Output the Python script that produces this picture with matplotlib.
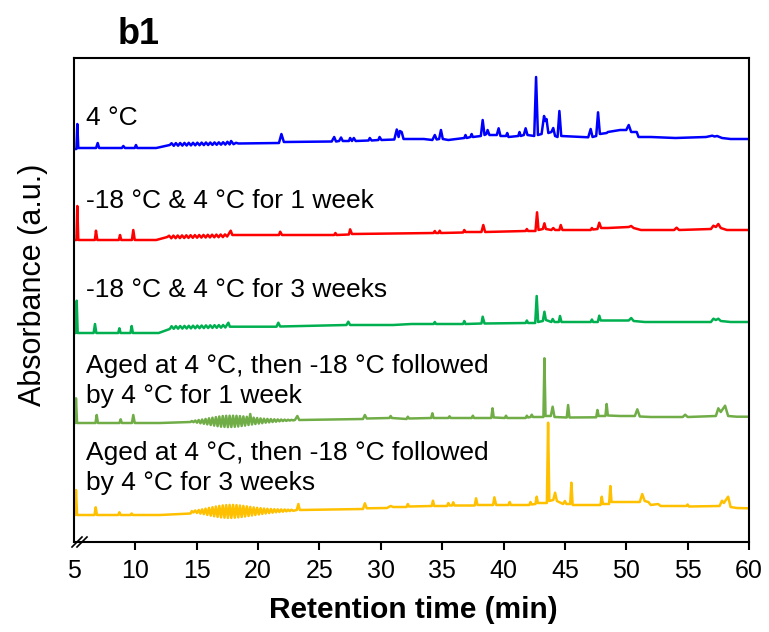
import numpy as np
import matplotlib
matplotlib.use('Agg')
import matplotlib.pyplot as plt

plt.rcParams['font.family'] = ['Liberation Sans', 'DejaVu Sans']

# chromatogram traces as (retention time, signal) points,
# signal measured from each trace's own starting baseline
blue = [(5.0, 0), (5.2, 0), (5.27, 25), (5.35, 1), (6.8, 1), (6.93, 6), (7.05, 1),
        (8.9, 1), (9.02, 3), (9.15, 1), (9.95, 1), (10.05, 4), (10.15, 1), (11.7, 1), (12.8, 4),
        (12.95, 5.8), (13.13, 3.2), (13.3, 5.9), (13.48, 3.3), (13.65, 6.0), (13.83, 3.4),
        (14.0, 6.1), (14.18, 3.5), (14.35, 6.2), (14.53, 3.6), (14.7, 6.2), (14.88, 3.7),
        (15.05, 6.3), (15.23, 3.8), (15.4, 6.4), (15.58, 3.9), (15.75, 6.5), (15.93, 4.0),
        (16.1, 6.5), (16.28, 4.1), (16.45, 6.6), (16.63, 4.2), (16.8, 6.7), (16.98, 4.3),
        (17.15, 6.8), (17.33, 4.4), (17.5, 7.2), (17.68, 4.6), (17.8, 8.0), (18.0, 4.8), (18.2, 6.2),
        (18.4, 5.5), (21.7, 6), (21.9, 15), (22.1, 7), (26.0, 7.5), (26.2, 12), (26.35, 7.5),
        (26.6, 8), (26.76, 11.5), (26.9, 8), (27.4, 8), (27.5, 11), (27.65, 8), (27.8, 11),
        (27.95, 8), (29.0, 8.5), (29.1, 11), (29.25, 8.5), (29.8, 9), (29.9, 12), (30.05, 9),
        (31.1, 9.5), (31.3, 19.5), (31.45, 12), (31.55, 18), (31.7, 17), (31.85, 10), (33.5, 10),
        (34.2, 9), (34.4, 14), (34.55, 9.5), (34.75, 10), (34.9, 19), (35.05, 10), (35.5, 9),
        (36.8, 11), (36.9, 14), (37.0, 11), (37.3, 12), (37.4, 15), (37.5, 12), (38.15, 13),
        (38.3, 29), (38.45, 14), (38.6, 15), (38.7, 19), (38.85, 14), (39.45, 14), (39.6, 20.7),
        (39.75, 13), (40.2, 13), (40.3, 16), (40.4, 12), (41.2, 13), (41.3, 17), (41.4, 13),
        (41.65, 14), (41.8, 20.7), (41.95, 14), (42.5, 13), (42.65, 72), (42.8, 14), (43.1, 15),
        (43.3, 33), (43.4, 28), (43.5, 30), (43.65, 16), (43.9, 17), (44.05, 21), (44.2, 13),
        (44.4, 12), (44.55, 38), (44.7, 13), (46.9, 11.7), (47.1, 20), (47.25, 12), (47.55, 13),
        (47.7, 36.7), (47.85, 15), (48.4, 16), (48.5, 17), (49.5, 19), (50.0, 19), (50.2, 24),
        (50.4, 17), (50.85, 17), (51.0, 12), (52.0, 12), (54.0, 11), (56.5, 12), (57.0, 13.3),
        (57.2, 12.5), (57.4, 13), (57.8, 11), (58.5, 10), (60.0, 10)]

red = [(5.0, 0), (5.2, 0), (5.27, 34), (5.35, 0), (6.7, 0), (6.79, 9.3), (6.9, 0),
       (8.65, 0), (8.75, 5), (8.85, 0), (9.72, 0), (9.83, 10), (9.95, 0), (11.7, 0), (12.6, 3),
       (12.75, 4.3), (12.93, 1.7), (13.1, 4.4), (13.28, 1.8), (13.45, 4.5), (13.63, 1.9),
       (13.8, 4.6), (13.98, 2.0), (14.15, 4.7), (14.33, 2.1), (14.5, 4.8), (14.68, 2.2),
       (14.85, 4.9), (15.03, 2.3), (15.2, 5.0), (15.38, 2.4), (15.55, 5.1), (15.73, 2.5),
       (15.9, 5.2), (16.08, 2.6), (16.25, 5.3), (16.43, 2.7), (16.6, 5.4), (16.78, 2.8),
       (16.95, 5.5), (17.13, 2.9), (17.3, 5.6), (17.48, 3.5), (17.77, 9.3), (17.9, 5),
       (21.7, 5), (21.8, 8.3), (21.95, 5), (26.2, 5), (26.3, 7), (26.4, 5), (27.4, 5.5),
       (27.5, 10.7), (27.65, 6), (32.4, 6.7), (34.3, 7), (34.4, 9), (34.5, 7), (34.7, 7),
       (34.8, 9.3), (34.9, 7), (36.7, 7.5), (36.8, 10), (36.9, 8), (38.2, 8), (38.35, 15),
       (38.5, 8), (41.8, 9), (41.9, 11), (42.0, 9), (42.6, 9), (42.73, 27.7), (42.85, 10),
       (43.2, 11), (43.33, 16.7), (43.45, 11), (43.9, 10), (44.05, 12), (44.2, 10), (44.55, 10),
       (44.66, 15), (44.8, 10), (47.1, 10), (47.2, 12), (47.3, 10.5), (47.65, 11), (47.8, 17.3),
       (47.95, 12), (48.5, 12), (50.2, 13), (50.4, 14), (50.6, 12), (51.2, 10), (53.9, 10),
       (54.1, 12.3), (54.3, 10), (56.9, 11), (57.1, 14.3), (57.3, 13), (57.5, 16), (57.7, 12),
       (58.2, 10), (60.0, 10)]

green = [(5.0, 0), (5.15, 0), (5.22, 32.3), (5.3, 0), (6.6, 0), (6.71, 9), (6.82, 0),
         (8.6, 0), (8.7, 4.7), (8.8, 0), (9.6, 0), (9.7, 7), (9.8, 0), (11.9, 0), (12.8, 4),
         (12.95, 6.8), (13.13, 4.2), (13.3, 6.9), (13.48, 4.3), (13.65, 7.0), (13.83, 4.4),
         (14.0, 7.1), (14.18, 4.5), (14.35, 7.2), (14.53, 4.6), (14.7, 7.3), (14.88, 4.7),
         (15.05, 7.4), (15.23, 4.8), (15.4, 7.5), (15.58, 4.9), (15.75, 7.6), (15.93, 5.0),
         (16.1, 7.7), (16.28, 5.1), (16.45, 7.8), (16.63, 5.2), (16.8, 7.9), (16.98, 5.3),
         (17.15, 8.0), (17.33, 5.5), (17.58, 10.3), (17.7, 6.3), (21.5, 6.3), (21.65, 10.3),
         (21.8, 6.5), (27.2, 8), (27.35, 11.3), (27.5, 8), (31.0, 8), (32.5, 9), (34.3, 9),
         (34.4, 11), (34.5, 9), (36.7, 9), (36.8, 12), (36.9, 9), (38.2, 9.5), (38.3, 16.3),
         (38.45, 9.5), (41.8, 10), (41.9, 12.5), (42.0, 10), (42.58, 10), (42.7, 37), (42.82, 11),
         (43.2, 12), (43.33, 21.3), (43.45, 13), (43.9, 11), (44.0, 14), (44.15, 11), (44.5, 11),
         (44.6, 17), (44.72, 11), (47.1, 11), (47.2, 13.5), (47.3, 11), (47.68, 11), (47.8, 17.3),
         (47.92, 12.5), (48.5, 12.5), (50.2, 12.5), (50.4, 15), (50.6, 12), (51.5, 11),
         (56.9, 11), (57.1, 14.3), (57.3, 13), (57.5, 14.3), (57.7, 12), (58.5, 11), (60.0, 11)]

light_green = [(5.0, 0), (5.1, 0), (5.16, 24.7), (5.25, 0), (6.75, 0), (6.85, 8), (6.95, 0),
               (8.7, 0), (8.8, 3.7), (8.9, 0), (9.72, 0), (9.83, 8), (9.95, 0), (12.0, 0), (14.5, 1),
               (14.6, 2.0), (14.74, 0.8), (14.88, 2.5), (15.02, 0.3), (15.16, 3.0), (15.3, -0.3),
               (15.44, 3.5), (15.58, -0.8), (15.72, 4.1), (15.86, -1.4), (16.0, 4.7), (16.14, -2.0),
               (16.28, 5.3), (16.42, -2.6), (16.56, 5.9), (16.7, -3.2), (16.84, 6.5), (16.98, -3.7),
               (17.12, 7.0), (17.26, -3.9), (17.4, 7.2), (17.54, -4.1), (17.68, 7.3), (17.82, -4.0),
               (17.96, 7.3), (18.1, -3.8), (18.24, 7.2), (18.38, -3.5), (18.52, 6.9), (18.66, -3.0),
               (18.8, 6.6), (18.94, -2.6), (19.08, 6.2), (19.22, -2.0), (19.36, 9.0), (19.5, -1.5),
               (19.64, 5.3), (19.78, -1.0), (19.92, 5.0), (20.06, -0.6), (20.2, 4.6), (20.34, -0.2),
               (20.48, 4.3), (20.62, 0.3), (20.76, 4.1), (20.9, 0.6), (21.04, 3.9), (21.18, 1.0),
               (21.32, 3.7), (21.46, 1.3), (21.6, 3.6), (21.74, 1.6), (21.88, 3.5), (22.02, 1.9),
               (22.16, 3.4), (22.3, 2.1), (22.44, 3.3), (22.58, 2.4), (22.72, 3.2), (22.86, 2.6),
               (23.0, 3), (23.2, 7), (23.35, 3), (28.55, 4), (28.7, 8), (28.85, 4.5), (30.7, 5),
               (30.8, 7), (30.9, 5), (32.1, 4), (32.2, 6.3), (32.3, 4.5), (34.1, 5), (34.2, 9.7),
               (34.3, 5), (35.5, 5), (35.6, 6.7), (35.7, 5), (37.4, 5), (37.5, 7.3), (37.6, 5),
               (39.0, 5), (39.1, 14.7), (39.2, 5.5), (40.1, 5), (40.2, 7.3), (40.3, 5), (41.8, 5),
               (41.9, 7.3), (42.0, 5.5), (42.2, 6), (42.3, 8.3), (42.4, 6), (43.25, 6), (43.33, 64.7),
               (43.42, 7), (43.85, 7), (44.0, 16.3), (44.15, 6), (45.15, 5.5), (45.26, 18),
               (45.37, 5.5), (47.55, 5.7), (47.65, 13), (47.75, 7), (48.3, 7), (48.4, 19), (48.5, 7.5),
               (49.5, 7), (50.7, 7), (50.9, 13.7), (51.1, 6.5), (52.0, 6), (54.6, 6), (54.8, 8.3),
               (55.0, 6), (57.3, 7), (57.5, 14.7), (57.7, 11), (58.05, 17.3), (58.3, 7), (59.0, 6.3),
               (60.0, 6.3)]

yellow = [(5.0, 0), (5.1, 0), (5.16, 25), (5.25, 0), (6.67, 0), (6.77, 7.7), (6.87, 0),
          (8.6, 0), (8.7, 2.7), (8.8, 0), (9.6, 0), (9.7, 1.5), (9.8, 0), (12.0, 0), (14.5, 1.5),
          (14.6, 3.9), (14.74, 2.5), (14.88, 4.5), (15.02, 2.0), (15.16, 5.0), (15.3, 1.4),
          (15.44, 5.7), (15.58, 0.8), (15.72, 6.4), (15.86, 0.1), (16.0, 7.1), (16.14, -0.6),
          (16.28, 7.8), (16.42, -1.3), (16.56, 8.5), (16.7, -1.9), (16.84, 9.1), (16.98, -2.4),
          (17.12, 9.6), (17.26, -2.7), (17.4, 9.9), (17.54, -2.9), (17.68, 10.1), (17.82, -2.9),
          (17.96, 10.1), (18.1, -2.7), (18.24, 9.9), (18.38, -2.4), (18.52, 9.5), (18.66, -2.0),
          (18.8, 9.1), (18.94, -1.5), (19.08, 8.6), (19.22, -1.0), (19.36, 8.1), (19.5, -0.5),
          (19.64, 7.6), (19.78, 0.0), (19.92, 7.2), (20.06, 0.5), (20.2, 6.8), (20.34, 1.0),
          (20.48, 6.5), (20.62, 1.5), (20.76, 6.2), (20.9, 1.9), (21.04, 6.0), (21.18, 2.3),
          (21.32, 5.8), (21.46, 2.7), (21.6, 5.7), (21.74, 3.0), (21.88, 5.6), (22.02, 3.3),
          (22.16, 5.5), (22.3, 3.6), (22.44, 5.4), (22.58, 3.9), (22.72, 5.3), (22.86, 4.2),
          (23.15, 5), (23.28, 11), (23.4, 5), (28.55, 6), (28.7, 11.7), (28.85, 6.7), (30.5, 7),
          (30.8, 9), (31.0, 8), (32.1, 8), (32.2, 11), (32.3, 8.5), (34.15, 9), (34.25, 14.3),
          (34.35, 9), (35.4, 9), (35.5, 12), (35.6, 9.5), (35.8, 9.5), (35.9, 12.7), (36.0, 9.5),
          (37.65, 9.5), (37.76, 16.7), (37.88, 10), (39.15, 10), (39.25, 17.7), (39.4, 10),
          (40.4, 10), (40.5, 13), (40.6, 10), (42.1, 10), (42.2, 13), (42.3, 10.5), (42.6, 11),
          (42.7, 18.3), (42.8, 12), (43.53, 12), (43.63, 92.3), (43.73, 14), (44.05, 15),
          (44.2, 22.3), (44.35, 14), (44.85, 11), (45.0, 14), (45.12, 11), (45.43, 11),
          (45.53, 32.3), (45.63, 10), (47.9, 10), (48.0, 18.3), (48.1, 11), (48.6, 11), (48.7, 29),
          (48.8, 13), (49.5, 13), (51.1, 13), (51.3, 21), (51.5, 14), (51.8, 13), (52.0, 10),
          (52.6, 11), (52.8, 9), (54.9, 9), (55.0, 10.5), (55.1, 8.5), (57.6, 9), (57.8, 14.3),
          (57.95, 12), (58.3, 18.3), (58.5, 8), (59.0, 7), (60.0, 6.7)]

traces = [blue, red, green, light_green, yellow]
offsets = [393, 302, 209, 119, 27]
colors = ['#0000FF', '#FF0000', '#00B050', '#70AD47', '#FFC000']
labels = [['4 °C'],
          ['-18 °C & 4 °C for 1 week'],
          ['-18 °C & 4 °C for 3 weeks'],
          ['Aged at 4 °C, then -18 °C followed', 'by 4 °C for 1 week'],
          ['Aged at 4 °C, then -18 °C followed', 'by 4 °C for 3 weeks']]
label_y = [[417], [334.3], [245.3], [168.7, 138.7], [82, 52]]

fig = plt.figure(figsize=(7.69, 6.32), dpi=100)
ax = fig.add_axes([74 / 769, 90 / 632, 675 / 769, 484 / 632])

for trace, off, col in zip(traces, offsets, colors):
    t = np.array([p[0] for p in trace])
    v = np.array([p[1] for p in trace])
    ax.plot(t, v + off, color=col, lw=1.8, solid_joinstyle='round')

for lines, ys in zip(labels, label_y):
    for line, y in zip(lines, ys):
        ax.text(6.0, y, line, fontsize=19, va='baseline', ha='left')

ax.set_xlim(5, 60)
ax.set_ylim(0, 484)
ax.set_xticks(np.arange(5, 61, 5))
ax.set_yticks([])
ax.tick_params(axis='x', direction='out', length=6, width=1.5, labelsize=18, pad=6)
ax.xaxis.get_major_ticks()[0].tick1line.set_visible(False)
for s in ax.spines.values():
    s.set_linewidth(1.5)

# axis break mark at the bottom-left corner
px, py = 1 / 675, 1 / 484
for dx in (0, 5):
    ax.plot([(-2 + dx) * px, (8 + dx) * px], [-5 * py, 5 * py], color='black',
            lw=1.2, transform=ax.transAxes, clip_on=False)

fig.text(118 / 769, (632 - 44) / 632, 'b1', fontsize=26, fontweight='bold',
         ha='left', va='baseline')
fig.text(33 / 769, (632 - 285) / 632, 'Absorbance (a.u.)', fontsize=22,
         rotation=90, ha='center', va='center')
fig.text(413 / 769, 14 / 632, 'Retention time (min)', fontsize=21.5, fontweight='bold',
         ha='center', va='baseline')

plt.savefig('out.png', dpi=100)
